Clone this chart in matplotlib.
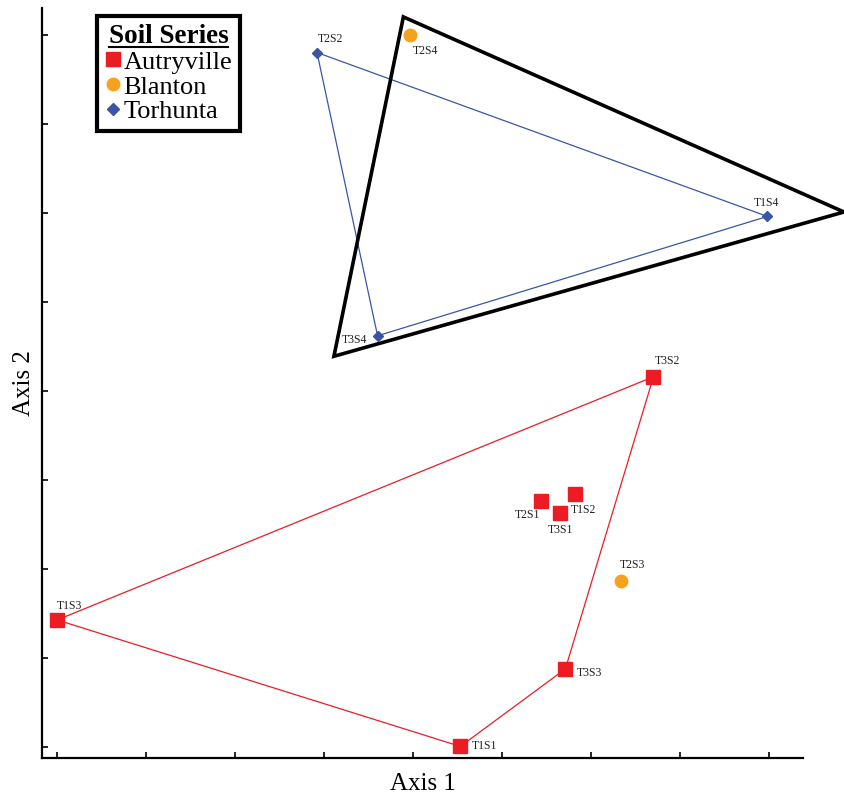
import matplotlib
matplotlib.use('Agg')
import matplotlib.pyplot as plt
from matplotlib.lines import Line2D
from matplotlib.patches import Polygon

plt.rcParams['font.family'] = ['Liberation Serif', 'DejaVu Serif']

# sample scores (axis 1, axis 2)
aut_names = ['T1S3', 'T1S1', 'T3S3', 'T3S2', 'T2S1', 'T3S1', 'T1S2']
aut_x = [0.00, 4.53, 5.71, 6.70, 5.44, 5.65, 5.82]
aut_y = [1.43, 0.01, 0.88, 4.16, 2.76, 2.63, 2.84]
aut_hull = ['T1S3', 'T3S2', 'T3S3', 'T1S1', 'T1S3']

bla_names = ['T2S4', 'T2S3']
bla_x = [3.97, 6.34]
bla_y = [8.00, 1.87]

tor_names = ['T2S2', 'T1S4', 'T3S4']
tor_x = [2.92, 7.98, 3.60]
tor_y = [7.80, 5.96, 4.62]
tor_hull = ['T2S2', 'T1S4', 'T3S4', 'T2S2']

# black triangle overlay
tri_x = [3.89, 8.84, 3.11]
tri_y = [8.20, 6.01, 4.39]

# label offsets (points)
offsets = {
    'T1S3': (0, 10), 'T1S1': (8, 0), 'T3S3': (8.5, -3), 'T3S2': (1, 11),
    'T2S1': (-19, -10), 'T3S1': (-8.5, -12), 'T1S2': (-3, -11.5),
    'T2S4': (1.5, -12), 'T2S3': (-1, 11), 'T2S2': (0.5, 9.5),
    'T1S4': (-9.5, 10), 'T3S4': (-26, -3),
}

red = '#ec1c24'
orange = '#f7a21f'
blue = '#3b55a5'

fig = plt.figure(figsize=(8.44, 7.96), dpi=100)
ax = fig.add_axes([42 / 844, 38 / 796, 761 / 844, 750 / 796])

def hull(names, xs, ys, order, color):
    idx = [names.index(n) for n in order]
    ax.plot([xs[i] for i in idx], [ys[i] for i in idx], color=color, lw=0.9, zorder=2)

hull(aut_names, aut_x, aut_y, aut_hull, red)
hull(tor_names, tor_x, tor_y, tor_hull, blue)

ax.add_patch(Polygon(list(zip(tri_x, tri_y)), closed=True, fill=False,
                     edgecolor='black', lw=2.6, clip_on=False, zorder=3))

ax.plot(aut_x, aut_y, 's', color=red, ms=10, ls='none', zorder=4)
ax.plot(bla_x, bla_y, 'o', color=orange, ms=9, ls='none', zorder=4)
ax.plot(tor_x, tor_y, 'D', color=blue, ms=5.5, ls='none', zorder=4)

for names, xs, ys in [(aut_names, aut_x, aut_y), (bla_names, bla_x, bla_y),
                      (tor_names, tor_x, tor_y)]:
    for n, x, y in zip(names, xs, ys):
        ax.annotate(n, (x, y), xytext=offsets[n], textcoords='offset points',
                    ha='left', va='center', fontsize=8.5, color='#222222', zorder=5)

ax.set_xlim(-0.17, 8.38)
ax.set_ylim(-0.12, 8.30)
ax.set_xticks(range(0, 9))
ax.set_yticks(range(0, 9))
ax.tick_params(direction='in', length=4, width=1.2, labelbottom=False, labelleft=False)
for s in ['top', 'right']:
    ax.spines[s].set_visible(False)
for s in ['left', 'bottom']:
    ax.spines[s].set_linewidth(1.6)

ax.set_xlabel('Axis 1', fontsize=18, labelpad=11)
ax.set_ylabel('Axis 2', fontsize=18, labelpad=5)

handles = [
    Line2D([], [], marker='s', color=red, ls='none', ms=10),
    Line2D([], [], marker='o', color=orange, ls='none', ms=9),
    Line2D([], [], marker='D', color=blue, ls='none', ms=6),
]
leg = ax.legend(handles, ['Autryville', 'Blanton', 'Torhunta'],
                title='Soil Series', loc='upper left',
                bbox_to_anchor=(97 / 844, 1 - 16 / 796), bbox_transform=fig.transFigure,
                fontsize=19, title_fontproperties={'weight': 'bold', 'size': 19.5},
                fancybox=False, framealpha=1, edgecolor='black',
                handlelength=0.6, handletextpad=0.1, borderpad=0.3,
                labelspacing=0.05, borderaxespad=0)
leg.get_frame().set_linewidth(3)
leg.set_zorder(10)

# underline legend title
fig.canvas.draw()
bb = leg.get_title().get_window_extent().transformed(fig.transFigure.inverted())
fig.add_artist(Line2D([bb.x0, bb.x1], [bb.y0 + 0.002, bb.y0 + 0.002],
                      transform=fig.transFigure, color='black', lw=1.5, zorder=11))

fig.savefig('out.png', dpi=100)
plt.close(fig)
